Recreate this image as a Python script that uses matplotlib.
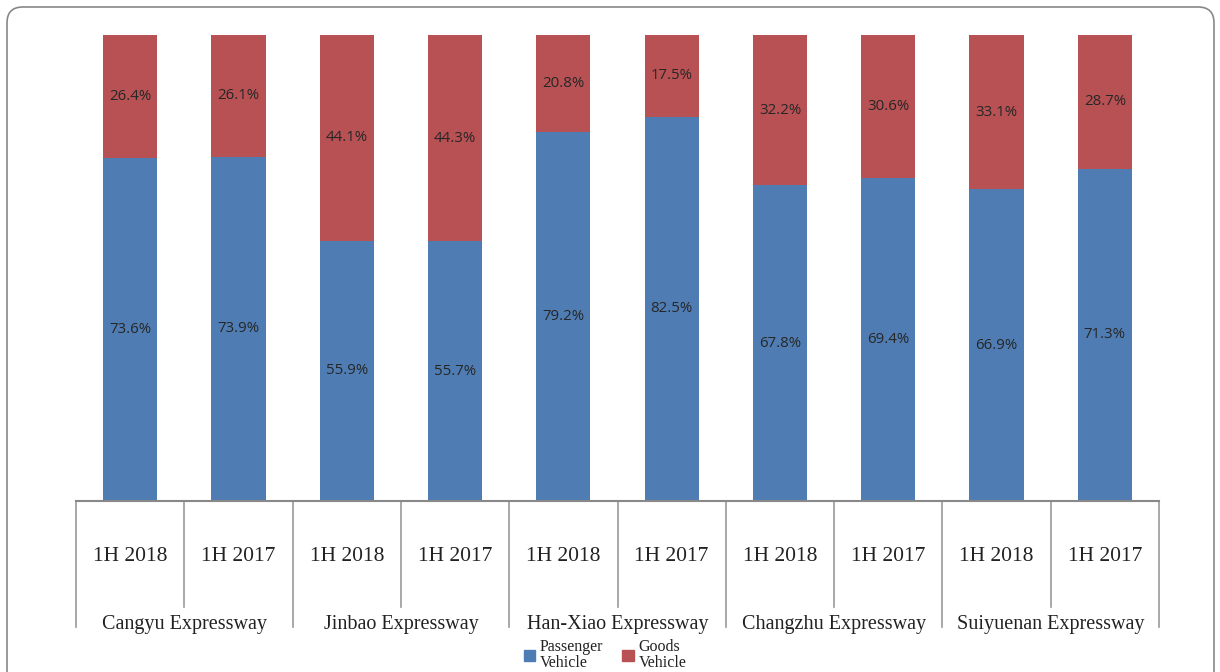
import matplotlib.pyplot as plt
from matplotlib.patches import Patch, FancyBboxPatch
from matplotlib.transforms import blended_transform_factory

# --- data ---------------------------------------------------------------------
groups = ["Cangyu Expressway", "Jinbao Expressway", "Han-Xiao Expressway",
          "Changzhu Expressway", "Suiyuenan Expressway"]
periods = ["1H 2018", "1H 2017"]
passenger = [73.6, 73.9, 55.9, 55.7, 79.2, 82.5, 67.8, 69.4, 66.9, 71.3]
goods = [26.4, 26.1, 44.1, 44.3, 20.8, 17.5, 32.2, 30.6, 33.1, 28.7]

blue = "#4F7DB3"
red = "#B85154"
serif = ["Liberation Serif", "DejaVu Serif"]
label_font = ["Open Sans", "DejaVu Sans"]

fig = plt.figure(figsize=(12.2, 6.72), dpi=100)
W, H = 1220, 672
ax = fig.add_axes([76 / W, 1 - 501 / H, (1159 - 76) / W, (501 - 35) / H])

x = list(range(len(passenger)))
ax.bar(x, passenger, width=0.5, color=blue, zorder=2)
ax.bar(x, goods, width=0.5, bottom=passenger, color=red, zorder=2)

for xi, p, g in zip(x, passenger, goods):
    ax.text(xi, p / 2, f"{p:.1f}%", ha="center", va="center",
            fontsize=10.8, color="#262626", family=label_font)
    ax.text(xi, p + g / 2, f"{g:.1f}%", ha="center", va="center",
            fontsize=10.8, color="#262626", family=label_font)

ax.set_xlim(-0.5, len(x) - 0.5)
ax.set_ylim(0, 100)
for s in ["top", "right", "left"]:
    ax.spines[s].set_visible(False)
ax.spines["bottom"].set_color("#888888")
ax.spines["bottom"].set_linewidth(1.5)
ax.set_xticks([])
ax.set_yticks([])

# --- two-level category axis --------------------------------------------------
tr = blended_transform_factory(ax.transData, ax.transAxes)
n = len(periods)
for k in range(len(x) + 1):
    xb = k - 0.5
    y_end = -0.27 if k % n == 0 else -0.227
    ax.plot([xb, xb], [0, y_end], color="#999999", lw=1.2,
            transform=tr, clip_on=False)

for xi in x:
    ax.text(xi, -0.12, periods[xi % n], ha="center", va="center",
            fontsize=15.5, family=serif, color="#222222", transform=tr)

for gi, name in enumerate(groups):
    ax.text(gi * n + (n - 1) / 2, -0.265, name, ha="center", va="center",
            fontsize=14.5, family=serif, color="#222222", transform=tr)

# --- legend -------------------------------------------------------------------
handles = [Patch(color=blue), Patch(color=red)]
leg = fig.legend(handles, ["Passenger\nVehicle", "Goods\nVehicle"],
                 loc="center", bbox_to_anchor=(605 / W, 1 - 655 / H), ncol=2,
                 frameon=False, prop={"family": serif, "size": 11.5},
                 handlelength=0.7, handleheight=0.7, handletextpad=0.3,
                 columnspacing=1.2, borderpad=0)
for t in leg.get_texts():
    t.set_linespacing(0.92)
    t.set_color("#222222")

# --- rounded border -----------------------------------------------------------
border = FancyBboxPatch((7 / W, -0.05), (1214 - 7) / W, 1 - 7 / H + 0.05,
                        boxstyle="round,pad=0,rounding_size=0.013",
                        transform=fig.transFigure, fill=False,
                        edgecolor="#888888", lw=1.2, mutation_aspect=W / H)
fig.patches.append(border)

fig.savefig("out.png", dpi=100)
